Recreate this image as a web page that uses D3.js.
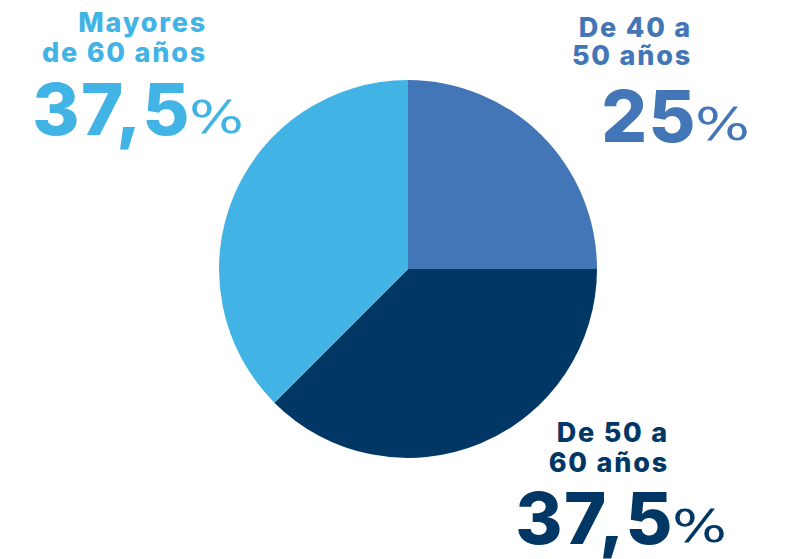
<!DOCTYPE html>
<html>
<head>
<meta charset="utf-8">
<script src="https://cdn.jsdelivr.net/npm/d3@7"></script>
<style>
	html, body { margin: 0; padding: 0; background: #fff; }
	svg { display: block; }
	.label { font-family: Inter, "Open Sans", sans-serif; font-weight: 800; }
	.pct { font-family: "DejaVu Sans", sans-serif; font-weight: 400; }
</style>
</head>
<body>
<div id="chart"></div>
<script>
var groups = ["De 40 a 50 años", "De 50 a 60 años", "Mayores de 60 años"];
var labelLines = [["De 40 a", "50 años"], ["De 50 a", "60 años"], ["Mayores", "de 60 años"]];
var shares = [25, 37.5, 37.5];
var colors = ["#4376b7", "#003764", "#41b4e5"];

var width = 787, height = 559;
var cx = 408, cy = 269, radius = 189;

// label block layout: right edge of the two text lines, left edge of the "%" sign
var labelPos = [
	{ x: 692, y1: 37, y2: 65, px: 700, ny: 142 },
	{ x: 669, y1: 442, y2: 472, px: 677, ny: 544 },
	{ x: 207, y1: 32, y2: 62, px: 194, ny: 135 }
];

var es = d3.formatLocale({ decimal: ",", thousands: ".", grouping: [3], currency: ["", " €"] });
var fmt = es.format(".1~f");

var svg = d3.select("#chart").append("svg")
	.attr("width", width)
	.attr("height", height);

var pie = d3.pie().sort(null).value(function(d) { return d; });
var arc = d3.arc().innerRadius(0).outerRadius(radius);

var color = d3.scaleOrdinal().domain(groups).range(colors);

svg.append("g")
	.attr("transform", "translate(" + cx + "," + cy + ")")
	.selectAll("path")
	.data(pie(shares))
	.enter()
	.append("path")
	.attr("d", arc)
	.attr("fill", function(d, i) { return color(groups[i]); });

var labels = svg.append("g")
	.selectAll("g")
	.data(groups)
	.enter()
	.append("g")
	.attr("fill", function(d) { return color(d); });

labels.each(function(d, i) {
	var g = d3.select(this);
	var p = labelPos[i];

	[p.y1, p.y2].forEach(function(y, j) {
		g.append("text")
			.attr("class", "label")
			.attr("x", p.x)
			.attr("y", y)
			.attr("text-anchor", "end")
			.style("font-size", "27px")
			.style("letter-spacing", "1.8px")
			.text(labelLines[i][j]);
	});

	// big number, ends just before the % sign
	g.append("text")
		.attr("class", "label")
		.attr("x", p.px - 3)
		.attr("y", p.ny)
		.attr("text-anchor", "end")
		.style("font-size", "72px")
		.style("letter-spacing", "1.5px")
		.text(fmt(shares[i]));

	g.append("text")
		.attr("class", "pct")
		.attr("x", p.px - 5)
		.attr("y", p.ny - 2)
		.attr("textLength", 55)
		.attr("lengthAdjust", "spacingAndGlyphs")
		.style("font-size", "45px")
		.text("%");
});
</script>
</body>
</html>
